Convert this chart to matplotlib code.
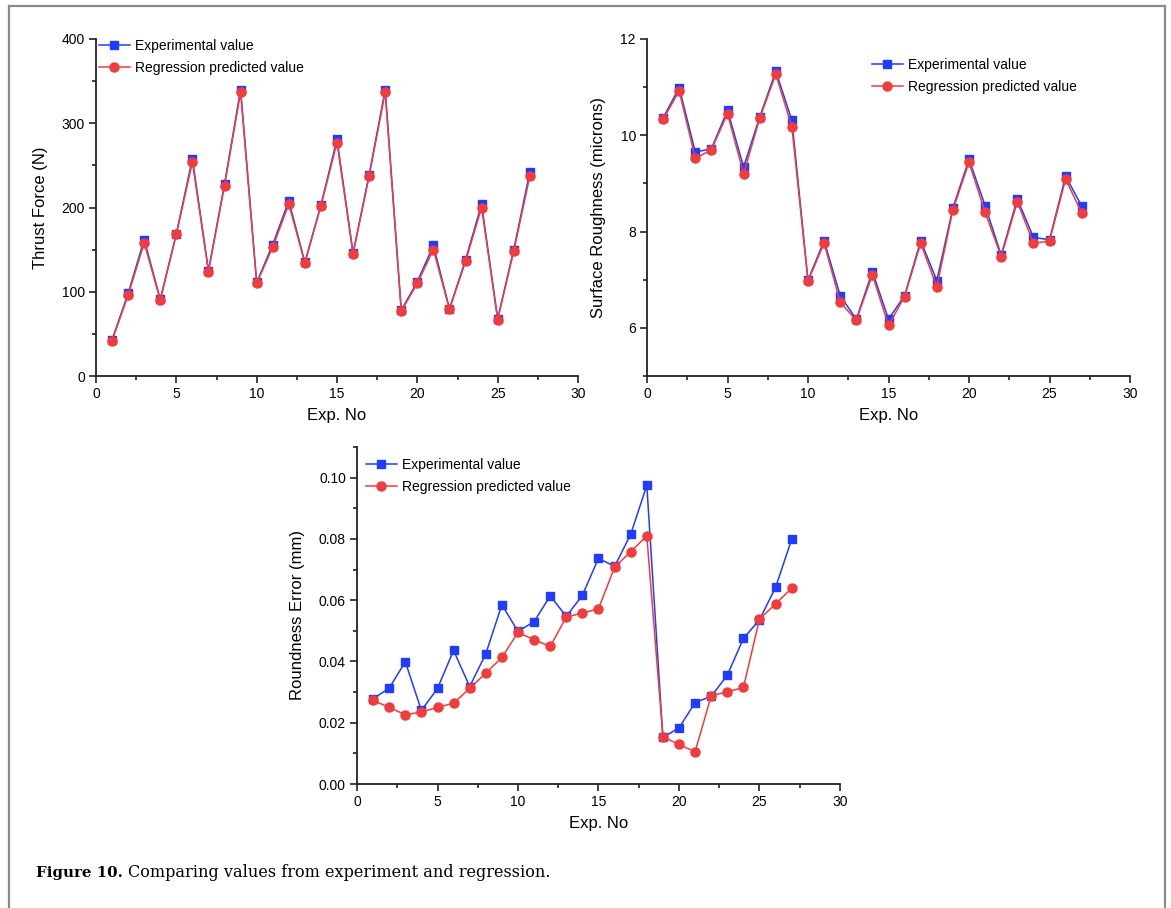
import numpy as np
import matplotlib
matplotlib.use('Agg')
import matplotlib.pyplot as plt
from matplotlib.lines import Line2D
from matplotlib.ticker import MultipleLocator

plt.rcParams['font.family'] = ['Liberation Sans', 'DejaVu Sans']

# Experiment numbers 1..27
Exp_No = list(range(1, 28))

# Thrust force (N)
Thrust_Exp = [43, 98, 162, 91, 169, 258, 125, 228, 340, 111, 156, 208, 135, 203,
              281, 146, 239, 340, 78, 112, 155, 80, 138, 204, 68, 150, 242]
Thrust_Reg = [42, 96, 158, 90, 168, 254, 124, 226, 337, 110, 153, 204, 134, 202,
              277, 145, 237, 337, 77, 110, 150, 79, 136, 200, 67, 148, 237]

# Surface roughness (microns)
Rough_Exp = [10.36, 10.99, 9.65, 9.72, 10.52, 9.34, 10.38, 11.33, 10.31, 6.99,
             7.81, 6.67, 6.18, 7.17, 6.18, 6.67, 7.81, 6.98, 8.49, 9.50, 8.54,
             7.51, 8.68, 7.88, 7.83, 9.15, 8.53]
Rough_Reg = [10.33, 10.92, 9.52, 9.70, 10.45, 9.20, 10.35, 11.27, 10.17, 6.97,
             7.76, 6.53, 6.16, 7.10, 6.05, 6.65, 7.76, 6.85, 8.45, 9.44, 8.40,
             7.48, 8.62, 7.76, 7.80, 9.09, 8.39]

# Roundness error (mm)
Round_Exp = [0.0278, 0.0313, 0.0399, 0.0240, 0.0312, 0.0436, 0.0318, 0.0425,
             0.0585, 0.0498, 0.0530, 0.0614, 0.0547, 0.0616, 0.0737, 0.0710,
             0.0815, 0.0975, 0.0152, 0.0183, 0.0266, 0.0286, 0.0355, 0.0475,
             0.0536, 0.0642, 0.0799]
Round_Reg = [0.0273, 0.0250, 0.0226, 0.0235, 0.0250, 0.0264, 0.0312, 0.0362,
             0.0413, 0.0495, 0.0471, 0.0449, 0.0545, 0.0558, 0.0572, 0.0708,
             0.0758, 0.0810, 0.0154, 0.0129, 0.0105, 0.0288, 0.0301, 0.0315,
             0.0538, 0.0588, 0.0639]

W, H = 1171, 908
BLUE = '#1f3cff'
RED = '#f03c3c'


def px_rect(left, top, right, bottom):
    # pixel box -> figure fraction rect
    return [left / W, 1 - bottom / H, (right - left) / W, (bottom - top) / H]


def style_axes(ax):
    for s in ['top', 'right']:
        ax.spines[s].set_visible(False)
    for s in ['left', 'bottom']:
        ax.spines[s].set_linewidth(1.3)
        ax.spines[s].set_color('#222222')
    ax.tick_params(which='major', direction='out', length=5, width=1.2,
                   labelsize=10, pad=3, color='#222222')
    ax.tick_params(which='minor', direction='out', length=3, width=1.2,
                   color='#222222')
    ax.set_xlim(0, 30)
    ax.xaxis.set_major_locator(MultipleLocator(5))
    ax.xaxis.set_minor_locator(MultipleLocator(2.5))
    ax.set_xlabel('Exp. No', fontsize=12, labelpad=5)


def draw(ax, exp, reg, legend_xy):
    ax.plot(Exp_No, exp, '-s', color=BLUE, lw=1.1, ms=6, mec=BLUE,
            label='Experimental value', clip_on=False)
    ax.plot(Exp_No, reg, '-o', color=RED, lw=1.1, ms=6.5, mec=RED,
            label='Regression predicted value', clip_on=False)
    fig = ax.figure
    ax.legend(loc='upper left', bbox_to_anchor=(legend_xy[0] / W, 1 - legend_xy[1] / H),
              bbox_transform=fig.transFigure, frameon=False, fontsize=10,
              handlelength=2.2, handletextpad=0.4, labelspacing=0.55,
              borderpad=0, borderaxespad=0)


fig = plt.figure(figsize=(W / 100, H / 100), dpi=100)

# Thrust force
ax1 = fig.add_axes(px_rect(96, 39, 578, 376))
draw(ax1, Thrust_Exp, Thrust_Reg, (99, 39))
style_axes(ax1)
ax1.set_ylim(0, 400)
ax1.yaxis.set_major_locator(MultipleLocator(100))
ax1.yaxis.set_minor_locator(MultipleLocator(50))
ax1.set_ylabel('Thrust Force (N)', fontsize=12, labelpad=10)

# Surface roughness
ax2 = fig.add_axes(px_rect(647, 39, 1130, 376))
draw(ax2, Rough_Exp, Rough_Reg, (872, 58))
style_axes(ax2)
ax2.set_ylim(5, 12)
ax2.yaxis.set_major_locator(MultipleLocator(2))
ax2.yaxis.set_minor_locator(MultipleLocator(1))
ax2.set_yticks([6, 8, 10, 12])
ax2.set_ylabel('Surface Roughness (microns)', fontsize=12, labelpad=10)

# Roundness error
ax3 = fig.add_axes(px_rect(357, 447, 840, 784))
draw(ax3, Round_Exp, Round_Reg, (366, 458))
style_axes(ax3)
ax3.set_ylim(0, 0.11)
ax3.yaxis.set_major_locator(MultipleLocator(0.02))
ax3.yaxis.set_minor_locator(MultipleLocator(0.01))
ax3.yaxis.set_major_formatter(matplotlib.ticker.FormatStrFormatter('%.2f'))
ax3.set_ylabel('Roundness Error (mm)', fontsize=12, labelpad=10)

# page frame (left, top, right edges)
frame_kw = dict(color='#8a8a8a', lw=1.6, transform=fig.transFigure)
fig.add_artist(Line2D([9 / W, 9 / W], [0, 1 - 6 / H], **frame_kw))
fig.add_artist(Line2D([1165 / W, 1165 / W], [0, 1 - 6 / H], **frame_kw))
fig.add_artist(Line2D([9 / W, 1165 / W], [1 - 6 / H, 1 - 6 / H], **frame_kw))

# caption
cap_y = 1 - 877 / H
t1 = fig.text(36 / W, cap_y, 'Figure 10.', family='DejaVu Serif', weight='bold',
              fontsize=10.8, va='baseline')
renderer = fig.canvas.get_renderer()
bb = t1.get_window_extent(renderer)
fig.text((bb.x1 + 5) / W, cap_y, 'Comparing values from experiment and regression.',
         family='DejaVu Serif', fontsize=11.6, va='baseline')

fig.savefig('out.png', dpi=100)
